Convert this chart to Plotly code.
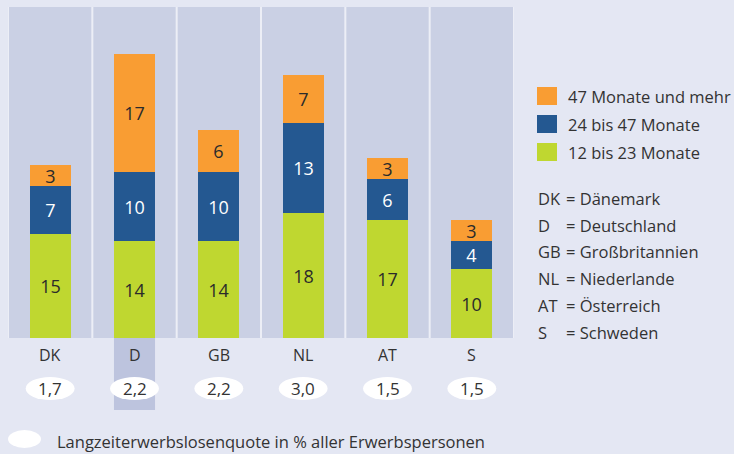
import plotly.graph_objects as go

countries = ["DK", "D", "GB", "NL", "AT", "S"]
m12_23 = [15, 14, 14, 18, 17, 10]
m24_47 = [7, 10, 10, 13, 6, 4]
m47_plus = [3, 17, 6, 7, 3, 3]
quote = ["1,7", "2,2", "2,2", "3,0", "1,5", "1,5"]
highlight = "D"

series_names = ["12 bis 23 Monate", "24 bis 47 Monate", "47 Monate und mehr"]
series_colors = ["#bfd730", "#245891", "#f99d33"]
text_colors = ["#2b2b2b", "#ffffff", "#2b2b2b"]

abbr = ["DK", "D", "GB", "NL", "AT", "S"]
abbr_names = ["Dänemark", "Deutschland", "Großbritannien", "Niederlande", "Österreich", "Schweden"]
footnote = "Langzeiterwerbslosenquote in % aller Erwerbspersonen"

FONT = "Open Sans"
TXT = "#333333"
BG = "#e4e7f3"
PANEL = "#cad0e4"
HL = "#bdc4de"

W, H = 734, 454
L, R, T, B = 8, 220, 7, 116
pw, ph = W - L - R, H - T - B

def py(pix):  # pixel y -> paper y
    return (H - B - pix) / ph

def px(pix):  # pixel x -> paper x
    return (pix - L) / pw

xs = list(range(len(countries)))
fig = go.Figure()
for vals, name, col, tcol in zip([m12_23, m24_47, m47_plus], series_names, series_colors, text_colors):
    fig.add_trace(go.Bar(
        x=xs, y=vals, name=name, marker=dict(color=col, line=dict(width=0)),
        width=0.487, text=[str(v) for v in vals], textposition="inside", textangle=0,
        insidetextanchor="middle", textfont=dict(color=tcol, size=18, family=FONT),
        showlegend=False, hoverinfo="skip"))

shapes = []
annots = []
for i, c in enumerate(countries):
    shapes.append(dict(type="rect", xref="x", yref="paper", x0=i - 0.488, x1=i + 0.488,
                       y0=0, y1=1, fillcolor=PANEL, line=dict(width=0), layer="below"))
    if c == highlight:
        shapes.append(dict(type="rect", xref="x", yref="paper", x0=i - 0.2435, x1=i + 0.2435,
                           y0=py(410), y1=0, fillcolor=HL, line=dict(width=0), layer="below"))
    shapes.append(dict(type="circle", xref="x", yref="paper", x0=i - 0.29, x1=i + 0.29,
                       y0=py(400), y1=py(377), fillcolor="white", line=dict(width=0)))
    annots.append(dict(x=i, y=py(355), xref="x", yref="paper", text=c, showarrow=False,
                       font=dict(size=16, color=TXT, family=FONT), xanchor="center", yanchor="middle"))
    annots.append(dict(x=i, y=py(388.5), xref="x", yref="paper", text=quote[i], showarrow=False,
                       font=dict(size=17, color=TXT, family=FONT), xanchor="center", yanchor="middle"))

# footnote
shapes.append(dict(type="circle", xref="paper", yref="paper", x0=px(8), x1=px(41),
                   y0=py(448), y1=py(430), fillcolor="white", line=dict(width=0)))
annots.append(dict(x=px(55), y=py(441), xref="paper", yref="paper", text=footnote, showarrow=False,
                   font=dict(size=16.5, color=TXT, family=FONT), xanchor="left", yanchor="middle"))

# custom legend (top to bottom: orange, blue, green)
leg_y = [96, 124, 152]
for k, idx in enumerate([2, 1, 0]):
    yc = leg_y[k]
    shapes.append(dict(type="rect", xref="paper", yref="paper", x0=px(537), x1=px(557),
                       y0=py(yc + 9), y1=py(yc - 9), fillcolor=series_colors[idx], line=dict(width=0)))
    annots.append(dict(x=px(566), y=py(yc), xref="paper", yref="paper", text=series_names[idx],
                       showarrow=False, font=dict(size=16.5, color=TXT, family=FONT),
                       xanchor="left", yanchor="middle"))

# abbreviations
for k, (a, n) in enumerate(zip(abbr, abbr_names)):
    yc = 198.3 + k * 26.8
    annots.append(dict(x=px(536), y=py(yc), xref="paper", yref="paper", text=a, showarrow=False,
                       font=dict(size=16.5, color=TXT, family=FONT), xanchor="left", yanchor="middle"))
    annots.append(dict(x=px(564), y=py(yc), xref="paper", yref="paper", text="= " + n, showarrow=False,
                       font=dict(size=16.5, color=TXT, family=FONT), xanchor="left", yanchor="middle"))

fig.update_layout(
    width=W, height=H, margin=dict(l=L, r=R, t=T, b=B),
    paper_bgcolor=BG, plot_bgcolor="#eceef6",
    barmode="stack", bargap=0,
    uniformtext=dict(minsize=18, mode="show"),
    xaxis=dict(range=[-0.5, 5.5], showticklabels=False, showgrid=False, zeroline=False, ticks=""),
    yaxis=dict(range=[0, 47.75], showticklabels=False, showgrid=False, zeroline=False, ticks=""),
    shapes=shapes, annotations=annots, showlegend=False,
)

fig.write_html("out.html", config={"displayModeBar": False},
               post_script="document.body.style.margin='0';document.body.style.overflow='hidden';")
